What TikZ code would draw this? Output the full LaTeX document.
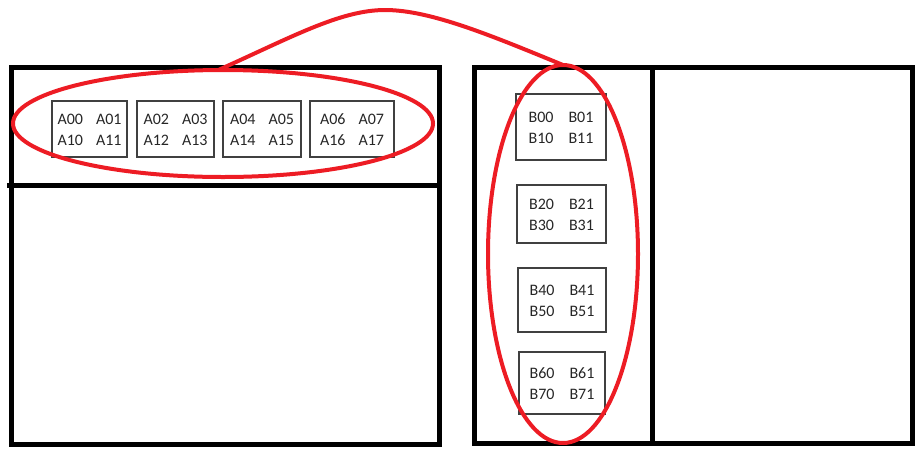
\documentclass[tikz,border=0pt]{standalone}
\usepackage{fontspec}
\setmainfont{Carlito}
\usetikzlibrary{shapes.geometric}
\definecolor{paintred}{RGB}{237,28,36}
\definecolor{boxgray}{RGB}{64,64,64}
\newcommand{\cellsA}[4]{\raisebox{-2pt}[\height][\depth]{\begin{tabular}{@{}l@{\hspace{13pt}}l@{}}#1&#2\\#3&#4\end{tabular}}}
\newcommand{\cellsB}[4]{\raisebox{-2pt}[\height][\depth]{\begin{tabular}{@{}l@{\hspace{15pt}}l@{}}#1&#2\\#3&#4\end{tabular}}}
\begin{document}
\begin{tikzpicture}[x=1pt,y=-1pt,
  frame/.style={line width=5pt, black},
  smallbox/.style={draw=boxgray, line width=1.2pt, inner sep=0pt, outer sep=0pt,
    font=\fontsize{16}{20.7}\selectfont, text=black!85},
  ring/.style={ellipse, draw=paintred, line width=4pt, inner sep=0pt, outer sep=0pt},
  link/.style={draw=paintred, line width=4pt, line cap=round}]
\useasboundingbox (0,0) rectangle (921,451);
% frames
\draw[frame] (11.7,67) rectangle (439.7,444);
\draw[frame] (7,185.5) -- (439.7,185.5);
\draw[frame] (474.5,67) rectangle (912.7,443.8);
\draw[frame] (652,67) -- (652,443.8);
% A boxes
\node[smallbox, minimum width=75pt, minimum height=56pt] (a0) at (89.5,129) {\cellsA{A00}{A01}{A10}{A11}};
\node[smallbox, minimum width=77pt, minimum height=56pt] (a1) at (175.5,129) {\cellsA{A02}{A03}{A12}{A13}};
\node[smallbox, minimum width=78pt, minimum height=56pt] (a2) at (262,129) {\cellsA{A04}{A05}{A14}{A15}};
\node[smallbox, minimum width=84pt, minimum height=56pt] (a3) at (352,129) {\cellsA{A06}{A07}{A16}{A17}};
% B boxes
\node[smallbox, minimum width=90pt, minimum height=66pt] (b0) at (561,127) {\cellsB{B00}{B01}{B10}{B11}};
\node[smallbox, minimum width=89pt, minimum height=58pt] (b1) at (561.5,214) {\cellsB{B20}{B21}{B30}{B31}};
\node[smallbox, minimum width=88pt, minimum height=64pt] (b2) at (562,300) {\cellsB{B40}{B41}{B50}{B51}};
\node[smallbox, minimum width=86pt, minimum height=62pt] (b3) at (562,383) {\cellsB{B60}{B61}{B70}{B71}};
% red rings
\node[ring, minimum width=420pt, minimum height=107pt] (le) at (223,123.5) {};
\node[ring, minimum width=150pt, minimum height=378pt] (re) at (563,254) {};
\coordinate (top) at (385,10);
\draw[link] (le.95) .. controls (290,38) and (340,10) .. (top)
  .. controls (430,10) and (490,35) .. (re.north);
\end{tikzpicture}
\end{document}
